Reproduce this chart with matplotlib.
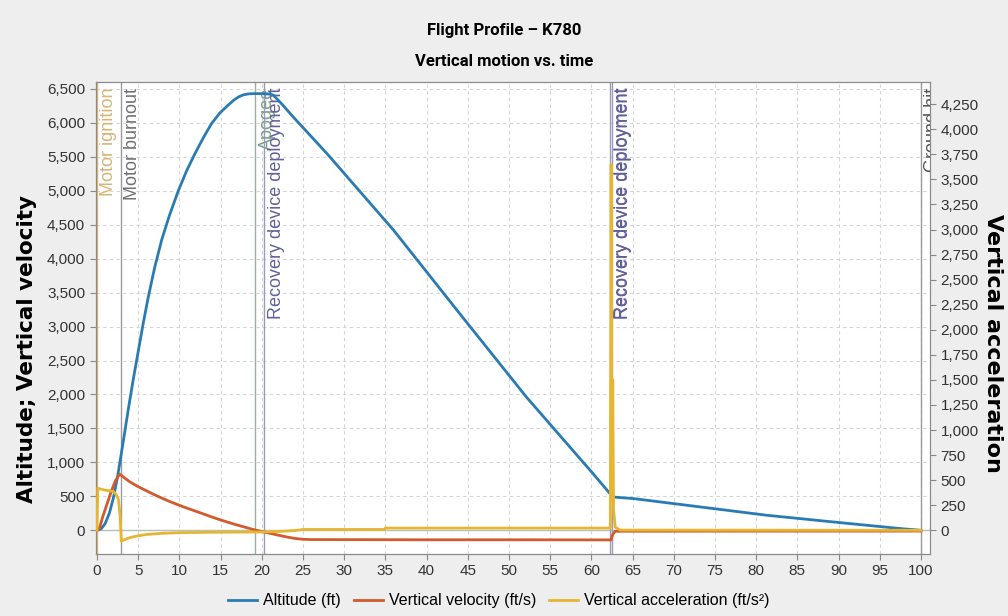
import matplotlib
matplotlib.use("Agg")
import matplotlib.pyplot as plt
from matplotlib.ticker import FuncFormatter, MultipleLocator

# Simulated flight, K780 motor (times in s)
alt_t = [0, 0.5, 1.0, 1.5, 2.0, 2.5, 2.9, 3.4, 3.8, 4.4, 5.0, 5.6, 6.2, 7.0,
         7.85, 8.8, 9.9, 10.9, 11.9, 12.9, 13.9, 14.9, 15.9, 16.6, 17.2, 17.8,
         18.4, 19.2, 20.3, 21.0, 21.4, 22.5, 23.8, 27.9, 36.0, 44.0, 52.1, 60.2,
         62.4, 62.6, 65.1, 73.2, 81.3, 89.4, 97.5, 100.0]
altitude = [0, 20, 100, 250, 480, 790, 1090, 1470, 1780, 2220, 2630, 3040, 3420,
            3870, 4275, 4640, 5010, 5300, 5550, 5780, 5990, 6145, 6260, 6335,
            6385, 6415, 6428, 6432, 6430, 6425, 6410, 6270, 6090, 5550, 4420,
            3195, 1965, 835, 520, 490, 467, 344, 221, 122, 25, 0]

vel_t = [0, 0.3, 0.7, 1.2, 1.7, 2.2, 2.6, 2.8, 3.2, 4.0, 5.0, 6.0, 7.0, 8.0,
         9.0, 10.0, 11.0, 12.0, 13.0, 14.0, 15.0, 16.0, 17.0, 18.0, 19.0, 20.0,
         21.0, 22.0, 23.0, 24.0, 25.0, 26.0, 30.0, 40.0, 50.0, 62.4, 62.6, 62.9,
         65.0, 80.0, 100.0]
velocity = [0, 30, 200, 380, 560, 720, 800, 825, 785, 712, 642, 582, 522, 467,
            415, 368, 323, 280, 237, 193, 152, 114, 78, 44, 10, -18, -45, -72,
            -98, -120, -133, -137, -138, -140, -140, -142, -60, -15, -14, -13, -12]

acc_t = [0, 0.1, 0.5, 1.0, 1.5, 2.0, 2.3, 2.6, 2.8, 2.95, 3.3, 4.0, 5.0, 6.0,
         8.0, 10.0, 14.0, 18.0, 20.0, 22.0, 24.0, 25.0, 34.9, 35.0, 62.3, 62.4,
         62.5, 62.6, 62.7, 62.9, 63.5, 100.0]
acceleration = [0, 420, 410, 400, 395, 385, 360, 310, 150, -110, -95, -73, -55,
                -42, -30, -24, -20, -18, -17, -12, -3, 8, 8, 22, 22, 3650, 300,
                1500, 200, 30, 2, 0]

# Flight events: time, name, line colour, text colour
event_t = [0.0, 2.9, 19.2, 20.3, 62.3, 62.45, 100.0]
event_name = ["Motor ignition", "Motor burnout", "Apogee",
              "Recovery device deployment", "Recovery device deployment",
              "Recovery device deployment", "Ground hit"]
event_line = ["#dcb878", "#9a9a9a", "#9aafa2", "#9a9abb", "#9a9abb", "#9a9abb", "#9a9a9a"]
event_text = ["#d8b474", "#707070", "#7aa088", "#60609a", "#60609a", "#60609a", "#555555"]

C_ALT = "#2b7bb3"
C_VEL = "#d35a2c"
C_ACC = "#e6b632"
FONT = ["Liberation Sans", "DejaVu Sans"]
TITLE_FONT = ["Liberation Sans Narrow", "DejaVu Sans Condensed", "Roboto", "DejaVu Sans"]
plt.rcParams["font.family"] = FONT

fig = plt.figure(figsize=(10.08, 6.16), dpi=100, facecolor="#eeeeee")
ax = fig.add_axes([0.0949, 0.1006, 0.8277, 0.7663])
ax.set_facecolor("white")
ax2 = ax.twinx()

ax.set_xlim(-0.16, 101.1)
ax.set_ylim(-350, 6603)

ax.grid(True, color="#d4d4d4", linestyle=(0, (3, 3)), linewidth=0.8)
ax.set_axisbelow(True)
ax.axhline(0, color="#b8c0b8", linewidth=1, zorder=1)

for t, name, lc, tc in zip(event_t, event_name, event_line, event_text):
    ax.axvline(t, color=lc, linewidth=1.0, zorder=2)
    ax.annotate(name, xy=(t, 1), xycoords=("data", "axes fraction"),
                xytext=(2.5, -4), textcoords="offset points", rotation=90,
                ha="left", va="top", fontsize=13, color=tc, clip_on=True,
                annotation_clip=False, zorder=2)

l1, = ax.plot(alt_t, altitude, color=C_ALT, linewidth=2, zorder=4, label="Altitude (ft)")
l2, = ax.plot(vel_t, velocity, color=C_VEL, linewidth=2, zorder=4, label="Vertical velocity (ft/s)")
l3, = ax2.plot(acc_t, acceleration, color=C_ACC, linewidth=2, zorder=3,
               label="Vertical acceleration (ft/s²)")

comma = FuncFormatter(lambda v, p: f"{v:,.0f}")
ax.xaxis.set_major_locator(MultipleLocator(5))
ax.yaxis.set_major_locator(MultipleLocator(500))
ax2.yaxis.set_major_locator(MultipleLocator(250))
ax.yaxis.set_major_formatter(comma)
ax2.yaxis.set_major_formatter(comma)
ax2.set_ylim(-237, 4472)

for a in (ax, ax2):
    a.tick_params(labelsize=11, colors="#888888", labelcolor="#333333", length=4, width=0.8)
    for s in a.spines.values():
        s.set_color("#8a8a8a")
        s.set_linewidth(0.8)

fig.text(0.5, 1 - 30 / 616, "Flight Profile – K780", ha="center", va="center",
         fontsize=12, fontweight="bold", family=TITLE_FONT)
fig.text(0.5, 1 - 62 / 616, "Vertical motion vs. time", ha="center", va="center",
         fontsize=12, fontweight="bold", family=TITLE_FONT)
fig.text(27 / 1008, 1 - 349 / 616, "Altitude; Vertical velocity", rotation=90,
         ha="center", va="center", fontsize=15.5, fontweight="bold", family="DejaVu Sans")
fig.text(993 / 1008, 1 - 343 / 616, "Vertical acceleration", rotation=270,
         ha="center", va="center", fontsize=16, fontweight="bold", family="DejaVu Sans")

fig.legend(handles=[l1, l2, l3], loc="center", bbox_to_anchor=(499 / 1008, 15 / 616),
           ncol=3, frameon=False, fontsize=11.5, handlelength=1.8, handletextpad=0.4,
           columnspacing=0.8)

fig.savefig("out.png", dpi=100, facecolor=fig.get_facecolor())
